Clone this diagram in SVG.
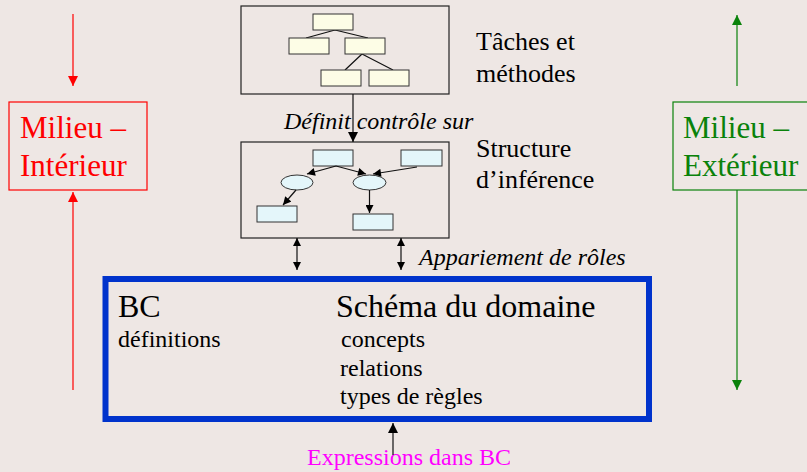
<svg xmlns="http://www.w3.org/2000/svg" width="807" height="472" viewBox="0 0 807 472" font-family="'Liberation Serif', 'Times New Roman', serif">
<defs>
<style>
text{font-family:'Liberation Serif','Times New Roman',serif;}
.box{fill:none;stroke:#222;stroke-width:1.2;}
.ybox{fill:#FDFDE6;stroke:#333;stroke-width:1;}
.cbox{fill:#E4F6FA;stroke:#333;stroke-width:1;}
.blk{stroke:#111;stroke-width:1.2;fill:none;}
.t24{font-size:24px;fill:#000;}
.t26{font-size:26px;fill:#000;}
.it{font-size:24px;font-style:italic;fill:#000;}
</style>
<marker id="ab" viewBox="0 0 10 10" refX="10" refY="5" markerWidth="10" markerHeight="10" markerUnits="userSpaceOnUse" orient="auto-start-reverse"><path d="M0,0 L10,5 L0,10 z" fill="#000"/></marker>
<marker id="as" viewBox="0 0 10 10" refX="10" refY="5" markerWidth="9" markerHeight="8" markerUnits="userSpaceOnUse" orient="auto-start-reverse"><path d="M0,0 L10,5 L0,10 z" fill="#000"/></marker>
<marker id="ar" viewBox="0 0 10 10" refX="10" refY="5" markerWidth="11" markerHeight="10" markerUnits="userSpaceOnUse" orient="auto"><path d="M0,0 L10,5 L0,10 z" fill="#FF0000"/></marker>
<marker id="ag" viewBox="0 0 10 10" refX="10" refY="5" markerWidth="11" markerHeight="10" markerUnits="userSpaceOnUse" orient="auto"><path d="M0,0 L10,5 L0,10 z" fill="#0A820A"/></marker>
</defs>
<rect width="807" height="472" fill="#EEE7E4"/>

<g id="taches">
<rect class="box" x="241" y="6" width="208" height="88"/>
<path class="blk" d="M335,30 L306,38 M335,30 L368,38 M362,54 L345,70 M362,54 L393,70" stroke-width="1"/>
<rect class="ybox" x="313" y="14" width="40" height="16"/>
<rect class="ybox" x="289" y="38" width="40" height="16"/>
<rect class="ybox" x="345" y="38" width="40" height="16"/>
<rect class="ybox" x="321" y="70" width="40" height="16"/>
<rect class="ybox" x="369" y="70" width="40" height="16"/>
<text class="t26" x="476" y="50" font-family="Liberation Serif">Tâches et</text>
<text class="t26" x="476" y="82" font-family="Liberation Serif">méthodes</text>
</g>

<g id="inference">
<rect class="box" x="241" y="142" width="208" height="96"/>
<rect class="cbox" x="313" y="150" width="40" height="16"/>
<rect class="cbox" x="401" y="150" width="41" height="16"/>
<ellipse class="cbox" cx="297" cy="182.5" rx="16" ry="7.5"/>
<ellipse class="cbox" cx="369.5" cy="182.5" rx="16.5" ry="7.5"/>
<rect class="cbox" x="257" y="206" width="40" height="16"/>
<rect class="cbox" x="353" y="214" width="40" height="16"/>
<path class="blk" d="M336,166 L307,174" stroke-width="1" marker-end="url(#as)"/>
<path class="blk" d="M336,166 L366,174" stroke-width="1" marker-end="url(#as)"/>
<path class="blk" d="M417,167 L373,174" stroke-width="1" marker-end="url(#as)"/>
<path class="blk" d="M296,190 L283,205" stroke-width="1" marker-end="url(#as)"/>
<path class="blk" d="M369.5,190 L369.5,213" stroke-width="1" marker-end="url(#as)"/>
<text class="t26" x="476" y="157" font-family="Liberation Serif">Structure</text>
<text class="t26" x="476" y="188" font-family="Liberation Serif">d’inférence</text>
</g>

<g id="bc">
<rect x="105.5" y="279" width="543.5" height="140" fill="none" stroke="#0033CC" stroke-width="6"/>
<text x="118" y="317" font-size="32" font-family="Liberation Serif" fill="#000">BC</text>
<text x="336" y="317" font-size="32" font-family="Liberation Serif" fill="#000">Schéma du domaine</text>
<text class="t24" x="118" y="347" font-family="Liberation Serif">définitions</text>
<text class="t24" x="341" y="347" font-family="Liberation Serif">concepts</text>
<text class="t24" x="340" y="376" font-family="Liberation Serif">relations</text>
<text class="t24" x="340" y="404" font-family="Liberation Serif">types de règles</text>
</g>

<g id="milieu-interieur">
<rect x="9" y="102" width="138" height="88" fill="none" stroke="#FF0000" stroke-width="1.2"/>
<text x="20" y="138" font-size="31" font-family="Liberation Serif" fill="#FF0000">Milieu –</text>
<text x="20" y="176" font-size="31" font-family="Liberation Serif" fill="#FF0000">Intérieur</text>
</g>

<g id="milieu-exterieur">
<rect x="673" y="102" width="140" height="88" fill="none" stroke="#0A820A" stroke-width="1.2"/>
<text x="683" y="138" font-size="31" font-family="Liberation Serif" fill="#0A820A">Milieu –</text>
<text x="683" y="176" font-size="31" font-family="Liberation Serif" fill="#0A820A">Extérieur</text>
</g>

<g id="labels">
<text class="it" x="284" y="129" font-family="Liberation Serif">Définit contrôle sur</text>
<text class="it" x="419" y="265" font-family="Liberation Serif">Appariement de rôles</text>
<text x="307" y="465" font-size="24" font-family="Liberation Serif" fill="#FF00FF">Expressions dans BC</text>
</g>

<g id="connectors">
<path class="blk" d="M353,94 L353,142" marker-end="url(#ab)"/>
<path class="blk" d="M297,238 L297,270" marker-start="url(#as)" marker-end="url(#as)"/>
<path class="blk" d="M401,238 L401,270" marker-start="url(#as)" marker-end="url(#as)"/>
<path class="blk" d="M393,455 L393,423" marker-end="url(#ab)"/>
<path d="M73,14 L73,86" stroke="#FF0000" stroke-width="1.2" fill="none" marker-end="url(#ar)"/>
<path d="M73,390 L73,192" stroke="#FF0000" stroke-width="1.2" fill="none" marker-end="url(#ar)"/>
<path d="M737,86 L737,15" stroke="#0A820A" stroke-width="1.2" fill="none" marker-end="url(#ag)"/>
<path d="M737,190 L737,390" stroke="#0A820A" stroke-width="1.2" fill="none" marker-end="url(#ag)"/>
</g>
</svg>
